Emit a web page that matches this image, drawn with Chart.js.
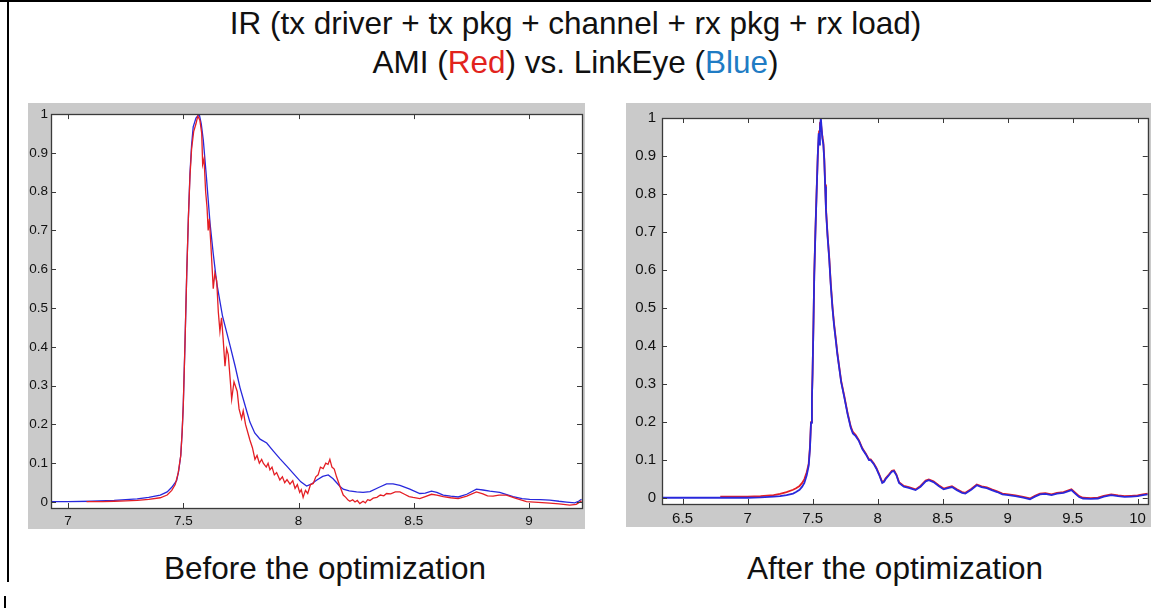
<!DOCTYPE html>
<html lang="en">
<head>
<meta charset="UTF-8">
<title>IR AMI vs LinkEye</title>
<script src="https://cdn.jsdelivr.net/npm/chart.js"></script>
<style>
  body { margin: 0; width: 1151px; height: 608px; overflow: hidden; position: relative; background: #fff; font-family: "Liberation Sans", Arial, sans-serif; }
  .txt { position: absolute; text-align: center; font-size: 31.5px; line-height: 36px; color: #111; white-space: nowrap; }
  .red { color: #e2231d; }
  .blue { color: #1f7cc4; }
  canvas { position: absolute; }
  .line { position: absolute; background: #000; }
</style>
</head>
<body>
<div class="line" style="left:0;top:0;width:1151px;height:2px"></div>
<div class="line" style="left:7px;top:0;width:2px;height:582px"></div>
<div class="line" style="left:4px;top:596px;width:2px;height:12px"></div>

<div class="txt" style="left:0;top:5px;width:1151px">IR (tx driver + tx pkg + channel + rx pkg + rx load)</div>
<div class="txt" style="left:0;top:44px;width:1151px">AMI (<span class="red">Red</span>) vs. LinkEye (<span class="blue">Blue</span>)</div>

<canvas id="before" width="557" height="426" style="left:28px;top:103px"></canvas>
<canvas id="after" width="526" height="424" style="left:626px;top:103px"></canvas>

<div class="txt" style="left:75px;top:550px;width:500px">Before the optimization</div>
<div class="txt" style="left:645px;top:550px;width:500px">After the optimization</div>

<script>
// Before the optimization - LinkEye (blue)
const beforeBlueX = [6.926, 7.0, 7.1, 7.2, 7.3, 7.35, 7.4, 7.43, 7.45, 7.471, 7.48, 7.489, 7.495, 7.5, 7.507, 7.515, 7.522, 7.529, 7.536, 7.543, 7.555, 7.569, 7.578, 7.587, 7.6, 7.616, 7.63, 7.645, 7.67, 7.703, 7.725, 7.746, 7.77, 7.789, 7.81, 7.833, 7.862, 7.89, 7.919, 7.95, 7.977, 8.01, 8.035, 8.055, 8.078, 8.105, 8.129, 8.15, 8.18, 8.194, 8.22, 8.252, 8.28, 8.31, 8.35, 8.382, 8.41, 8.44, 8.483, 8.526, 8.55, 8.577, 8.6, 8.628, 8.66, 8.693, 8.73, 8.772, 8.8, 8.83, 8.873, 8.9, 8.931, 8.97, 9.003, 9.05, 9.09, 9.13, 9.163, 9.199, 9.215, 9.228];
const beforeBlueY = [0.001, 0.001, 0.002, 0.004, 0.008, 0.012, 0.018, 0.026, 0.038, 0.055, 0.08, 0.12, 0.18, 0.25, 0.40, 0.59, 0.73, 0.847, 0.92, 0.967, 0.99, 1.0, 0.975, 0.932, 0.84, 0.719, 0.64, 0.565, 0.48, 0.403, 0.35, 0.295, 0.245, 0.206, 0.178, 0.162, 0.152, 0.132, 0.112, 0.092, 0.074, 0.052, 0.041, 0.046, 0.056, 0.066, 0.07, 0.06, 0.04, 0.033, 0.029, 0.026, 0.025, 0.027, 0.038, 0.047, 0.047, 0.043, 0.033, 0.022, 0.023, 0.028, 0.025, 0.018, 0.015, 0.013, 0.02, 0.033, 0.031, 0.028, 0.025, 0.02, 0.014, 0.009, 0.007, 0.006, 0.005, 0.002, 0.0, -0.002, 0.002, 0.007];

// Before the optimization - AMI (red)
const beforeRedX = [7.08, 7.15, 7.2, 7.25, 7.3, 7.35, 7.4, 7.43, 7.45, 7.465, 7.478, 7.489, 7.495, 7.5, 7.507, 7.515, 7.522, 7.529, 7.536, 7.545, 7.555, 7.563, 7.572, 7.58, 7.584, 7.59, 7.597, 7.603, 7.608, 7.613, 7.62, 7.63, 7.637, 7.645, 7.652, 7.659, 7.666, 7.673, 7.681, 7.688, 7.695, 7.703, 7.71, 7.72, 7.734, 7.742, 7.753, 7.76, 7.77, 7.789, 7.8, 7.811, 7.82, 7.83, 7.84, 7.847, 7.86, 7.868, 7.876, 7.885, 7.895, 7.905, 7.919, 7.93, 7.94, 7.95, 7.963, 7.975, 7.985, 7.995, 8.005, 8.012, 8.02, 8.03, 8.04, 8.052, 8.064, 8.075, 8.085, 8.095, 8.107, 8.118, 8.128, 8.136, 8.145, 8.155, 8.165, 8.18, 8.194, 8.205, 8.215, 8.223, 8.235, 8.245, 8.255, 8.266, 8.28, 8.29, 8.3, 8.31, 8.324, 8.34, 8.355, 8.37, 8.382, 8.4, 8.42, 8.44, 8.46, 8.48, 8.497, 8.526, 8.55, 8.577, 8.6, 8.628, 8.66, 8.693, 8.73, 8.772, 8.8, 8.82, 8.844, 8.87, 8.902, 8.94, 8.989, 9.04, 9.09, 9.13, 9.177, 9.205, 9.228];
const beforeRedY = [0.001, 0.001, 0.002, 0.003, 0.004, 0.007, 0.011, 0.018, 0.03, 0.045, 0.075, 0.12, 0.18, 0.25, 0.40, 0.59, 0.73, 0.84, 0.91, 0.955, 0.975, 0.995, 0.984, 0.95, 0.87, 0.885, 0.80, 0.76, 0.70, 0.73, 0.66, 0.55, 0.59, 0.57, 0.49, 0.44, 0.475, 0.42, 0.35, 0.395, 0.38, 0.32, 0.265, 0.31, 0.285, 0.24, 0.215, 0.235, 0.2, 0.16, 0.14, 0.11, 0.12, 0.1, 0.11, 0.10, 0.09, 0.1, 0.083, 0.09, 0.07, 0.076, 0.057, 0.065, 0.05, 0.058, 0.046, 0.055, 0.035, 0.045, 0.025, 0.032, 0.012, 0.03, 0.022, 0.045, 0.048, 0.065, 0.07, 0.09, 0.086, 0.1, 0.097, 0.11, 0.09, 0.085, 0.065, 0.04, 0.018, 0.012, 0.005, 0.002, 0.006, 0.0, 0.004, -0.004, 0.002, -0.002, 0.006, 0.004, 0.01, 0.012, 0.018, 0.016, 0.022, 0.021, 0.026, 0.026, 0.02, 0.014, 0.012, 0.009, 0.014, 0.02, 0.018, 0.014, 0.011, 0.009, 0.015, 0.026, 0.021, 0.016, 0.015, 0.018, 0.018, 0.01, 0.001, -0.001, -0.003, -0.005, -0.008, -0.006, 0.003];

// After the optimization - LinkEye (blue)
const afterBlueX = [6.342, 6.6, 6.8, 7.0, 7.1, 7.2, 7.25, 7.3, 7.35, 7.373, 7.4, 7.42, 7.437, 7.455, 7.47, 7.48, 7.488, 7.495, 7.5, 7.507, 7.513, 7.522, 7.531, 7.54, 7.547, 7.551, 7.557, 7.564, 7.57, 7.576, 7.583, 7.59, 7.597, 7.603, 7.615, 7.628, 7.64, 7.653, 7.665, 7.679, 7.69, 7.704, 7.72, 7.743, 7.77, 7.794, 7.81, 7.832, 7.857, 7.883, 7.91, 7.934, 7.947, 7.97, 7.99, 8.011, 8.036, 8.05, 8.062, 8.087, 8.11, 8.126, 8.145, 8.165, 8.202, 8.24, 8.292, 8.33, 8.37, 8.394, 8.43, 8.47, 8.508, 8.54, 8.572, 8.61, 8.65, 8.675, 8.72, 8.763, 8.8, 8.84, 8.878, 8.92, 8.96, 9.006, 9.06, 9.12, 9.172, 9.21, 9.249, 9.29, 9.338, 9.38, 9.43, 9.491, 9.52, 9.55, 9.58, 9.64, 9.695, 9.74, 9.797, 9.85, 9.9, 9.95, 10.0, 10.04, 10.078];
const afterBlueY = [0.001, 0.001, 0.001, 0.001, 0.002, 0.004, 0.005, 0.008, 0.012, 0.016, 0.022, 0.03, 0.04, 0.06, 0.085, 0.13, 0.198, 0.26, 0.327, 0.46, 0.586, 0.7, 0.802, 0.9, 0.96, 0.93, 0.975, 1.0, 0.97, 0.945, 0.93, 0.889, 0.82, 0.759, 0.69, 0.63, 0.56, 0.5, 0.455, 0.414, 0.38, 0.345, 0.305, 0.267, 0.22, 0.185, 0.17, 0.163, 0.15, 0.129, 0.115, 0.1, 0.1, 0.09, 0.078, 0.062, 0.04, 0.043, 0.05, 0.06, 0.07, 0.071, 0.06, 0.04, 0.03, 0.027, 0.021, 0.03, 0.044, 0.047, 0.042, 0.032, 0.023, 0.026, 0.029, 0.021, 0.014, 0.012, 0.022, 0.034, 0.029, 0.026, 0.021, 0.016, 0.01, 0.008, 0.005, 0.001, -0.003, 0.004, 0.01, 0.011, 0.008, 0.012, 0.014, 0.021, 0.012, 0.003, -0.001, -0.002, -0.001, 0.004, 0.008, 0.005, 0.003, 0.004, 0.005, 0.008, 0.01];

// After the optimization - AMI (red)
const afterRedX = [6.79, 6.9, 7.0, 7.1, 7.2, 7.25, 7.3, 7.35, 7.373, 7.4, 7.42, 7.437, 7.455, 7.47, 7.48, 7.488, 7.495, 7.5, 7.507, 7.513, 7.522, 7.531, 7.54, 7.55, 7.557, 7.566, 7.576, 7.583, 7.59, 7.597, 7.603, 7.615, 7.628, 7.64, 7.653, 7.665, 7.679, 7.69, 7.704, 7.72, 7.743, 7.77, 7.794, 7.81, 7.832, 7.857, 7.883, 7.91, 7.934, 7.947, 7.97, 7.99, 8.011, 8.036, 8.05, 8.062, 8.087, 8.11, 8.126, 8.145, 8.165, 8.202, 8.24, 8.292, 8.33, 8.37, 8.394, 8.43, 8.47, 8.508, 8.54, 8.572, 8.61, 8.65, 8.675, 8.72, 8.763, 8.8, 8.84, 8.878, 8.92, 8.96, 9.006, 9.06, 9.12, 9.172, 9.21, 9.249, 9.29, 9.338, 9.38, 9.43, 9.491, 9.52, 9.55, 9.58, 9.64, 9.695, 9.74, 9.797, 9.85, 9.9, 9.95, 10.0, 10.04, 10.078];
const afterRedY = [0.004, 0.004, 0.004, 0.005, 0.008, 0.011, 0.016, 0.022, 0.026, 0.032, 0.04, 0.05, 0.068, 0.09, 0.135, 0.2, 0.262, 0.33, 0.462, 0.59, 0.705, 0.806, 0.9, 0.965, 0.984, 0.98, 0.95, 0.935, 0.893, 0.825, 0.763, 0.694, 0.634, 0.565, 0.504, 0.46, 0.418, 0.384, 0.348, 0.308, 0.27, 0.223, 0.188, 0.174, 0.166, 0.152, 0.131, 0.117, 0.102, 0.102, 0.092, 0.08, 0.064, 0.042, 0.045, 0.052, 0.062, 0.072, 0.073, 0.062, 0.042, 0.032, 0.029, 0.023, 0.032, 0.046, 0.049, 0.044, 0.034, 0.025, 0.028, 0.031, 0.023, 0.016, 0.014, 0.024, 0.036, 0.031, 0.028, 0.023, 0.018, 0.012, 0.01, 0.007, 0.003, -0.001, 0.006, 0.012, 0.013, 0.01, 0.014, 0.016, 0.023, 0.014, 0.005, 0.001, 0.0, 0.001, 0.006, 0.01, 0.007, 0.005, 0.006, 0.007, 0.01, 0.012];

const RED = 'rgb(228, 30, 36)';
const BLUE = 'rgb(40, 40, 220)';
const FIG_BG = '#cacaca';

function pts(xs, ys) {
    return xs.map((x, i) => ({ x: x, y: ys[i] }));
}

// matlab style box: white axes area, inward ticks on all four sides
const matlabBox = {
    id: 'matlabBox',
    beforeDraw(chart) {
        const { ctx, chartArea: a, width, height } = chart;
        ctx.save();
        ctx.fillStyle = FIG_BG;
        ctx.fillRect(0, 0, width, height);
        ctx.fillStyle = '#fff';
        ctx.fillRect(a.left, a.top, a.right - a.left, a.bottom - a.top);
        ctx.restore();
    },
    afterDraw(chart) {
        const { ctx, chartArea: a } = chart;
        const xs = chart.scales.x, ys = chart.scales.y;
        ctx.save();
        ctx.strokeStyle = '#3a3a3a';
        ctx.lineWidth = 1;
        ctx.beginPath();
        xs.ticks.forEach(t => {
            const p = Math.round(xs.getPixelForValue(t.value)) + 0.5;
            ctx.moveTo(p, a.bottom); ctx.lineTo(p, a.bottom - 5);
            ctx.moveTo(p, a.top); ctx.lineTo(p, a.top + 5);
        });
        ys.ticks.forEach(t => {
            const p = Math.round(ys.getPixelForValue(t.value)) + 0.5;
            ctx.moveTo(a.left, p); ctx.lineTo(a.left + 5, p);
            ctx.moveTo(a.right, p); ctx.lineTo(a.right - 5, p);
        });
        ctx.stroke();
        ctx.lineWidth = 1.3;
        ctx.strokeRect(Math.round(a.left) + 0.5, Math.round(a.top) + 0.5,
            Math.round(a.right - a.left), Math.round(a.bottom - a.top));
        ctx.restore();
    }
};

function makeChart(id, datasets, o) {
    return new Chart(document.getElementById(id), {
        type: 'line',
        data: { datasets: datasets },
        options: {
            responsive: false,
            animation: false,
            events: [],
            layout: { padding: { top: 9, right: o.padRight, left: 0, bottom: 0 } },
            plugins: { legend: { display: false }, tooltip: { enabled: false } },
            elements: { point: { radius: 0 }, line: { tension: 0 } },
            scales: {
                x: {
                    type: 'linear', min: o.xMin, max: o.xMax,
                    grid: { display: false, drawTicks: false },
                    border: { display: false },
                    ticks: {
                        stepSize: 0.5, includeBounds: false, maxRotation: 0, autoSkip: false,
                        padding: o.xPad, color: '#111',
                        font: { family: 'Liberation Sans', size: o.font },
                        callback: v => String(+v.toFixed(1))
                    },
                    afterFit: s => { s.height = o.xH; }
                },
                y: {
                    min: o.yMin, max: 1,
                    grid: { display: false, drawTicks: false },
                    border: { display: false },
                    ticks: {
                        stepSize: 0.1, includeBounds: false, autoSkip: false,
                        padding: o.yPad, color: '#111',
                        font: { family: 'Liberation Sans', size: o.font },
                        callback: v => String(+v.toFixed(1))
                    },
                    afterFit: s => { s.width = o.yW; }
                }
            }
        },
        plugins: [matlabBox]
    });
}

makeChart('before', [
    { label: 'AMI', data: pts(beforeRedX, beforeRedY), borderColor: RED, borderWidth: 1.3 },
    { label: 'LinkEye', data: pts(beforeBlueX, beforeBlueY), borderColor: BLUE, borderWidth: 1.3 }
], { xMin: 6.926, xMax: 9.23, yMin: -0.0154, padRight: 3, xH: 21, yW: 23, xPad: 5, yPad: 3, font: 13.5 });

makeChart('after', [
    { label: 'LinkEye', data: pts(afterBlueX, afterBlueY), borderColor: BLUE, borderWidth: 1.8 },
    { label: 'AMI', data: pts(afterRedX, afterRedY), borderColor: RED, borderWidth: 1.8 }
], { xMin: 6.342, xMax: 10.078, yMin: -0.0155, padRight: 2, xH: 23, yW: 36, xPad: 6, yPad: 6, font: 15 });
</script>
</body>
</html>
